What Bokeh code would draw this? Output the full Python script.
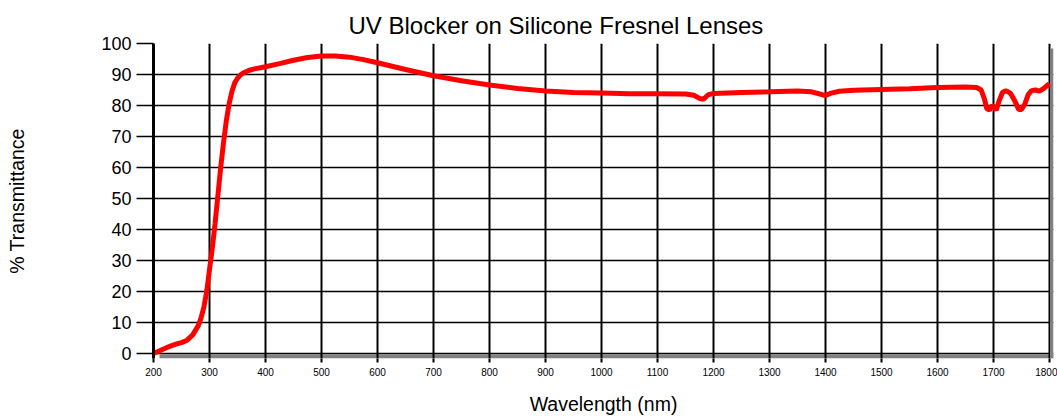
from bokeh.plotting import figure
from bokeh.models import Range1d, FixedTicker, Title
from bokeh.embed import file_html
from bokeh.resources import INLINE

wavelength = [200, 210, 220, 230, 240, 250, 260, 270, 280, 285, 290, 295, 300, 305, 310,
              315, 320, 325, 330, 335, 340, 345, 350, 355, 360, 370, 380, 400, 425, 450,
              475, 500, 525, 550, 575, 600, 650, 700, 750, 800, 850, 900, 950, 1000, 1050,
              1100, 1150, 1165, 1175, 1182, 1190, 1200, 1250, 1300, 1350, 1375, 1390, 1400,
              1410, 1425, 1450, 1500, 1550, 1600, 1650, 1670, 1678, 1684, 1688, 1693, 1697,
              1701, 1705, 1710, 1716, 1722, 1730, 1738, 1745, 1750, 1756, 1762, 1768, 1775,
              1782, 1790, 1796, 1800]
transmittance = [0, 0.8, 1.6, 2.4, 3.0, 3.5, 4.3, 6, 9, 11.5, 15, 20, 27, 34, 42,
                 51, 60, 68, 75, 80.5, 84.5, 87.3, 88.8, 89.8, 90.5, 91.3, 91.8, 92.5, 93.5, 94.6,
                 95.5, 96, 96, 95.6, 94.8, 93.8, 91.6, 89.6, 88, 86.6, 85.5, 84.7, 84.2, 84, 83.8,
                 83.8, 83.7, 83.3, 82.3, 82.0, 83.4, 83.9, 84.2, 84.4, 84.7, 84.4, 83.7, 83.2,
                 84.0, 84.6, 84.9, 85.2, 85.4, 85.8, 86, 85.8, 85.0, 82, 79, 78.5, 80,
                 79.5, 78.5, 81.5, 84.2, 84.8, 84.0, 81.5, 78.7, 78.7, 80.5, 83.5, 84.8, 85.0,
                 84.6, 85.5, 86.5, 87]

x_ticks = list(range(200, 1801, 100))
y_ticks = list(range(0, 101, 10))

FONT = "Liberation Sans"

# plot box (inner) and drop shadow geometry, in pixels
X0, X1, Y0, Y1 = 200, 1800, 0, 100
BOX_W, BOX_H = 896, 310
SHADOW = 4          # shadow thickness, px
SHADOW_SHIFT = 6    # shadow offset along the edge, px
nm_per_px = (X1 - X0) / BOX_W
val_per_px = (Y1 - Y0) / BOX_H
x_end = X1 + SHADOW * nm_per_px
y_start = Y0 - (SHADOW + 1) * val_per_px

p = figure(width=1057, height=417, output_backend="svg", toolbar_location=None,
           x_range=Range1d(X0, x_end), y_range=Range1d(y_start, Y1),
           min_border_left=153, min_border_right=4, min_border_top=43, min_border_bottom=59)
p.title = Title(text="UV Blocker on Silicone Fresnel Lenses", align="left", offset=195,
                text_font=FONT, text_font_size="24px", text_font_style="normal",
                text_color="#000000", standoff=9)

# drop shadow (below the plot box and to its right)
p.quad(left=[X0 + SHADOW_SHIFT * nm_per_px], right=[x_end],
       bottom=[y_start], top=[Y0 - 1 * val_per_px],
       fill_color="#808080", line_color=None, level="image")
p.quad(left=[X1 + 0.5 * nm_per_px], right=[x_end],
       bottom=[y_start], top=[Y1 - (SHADOW + 1) * val_per_px],
       fill_color="#808080", line_color=None, level="glyph")

p.line(wavelength, transmittance, line_color="#ff0000", line_width=5)

p.xaxis.ticker = FixedTicker(ticks=x_ticks)
p.yaxis.ticker = FixedTicker(ticks=y_ticks)
p.xgrid.ticker = FixedTicker(ticks=x_ticks)
p.ygrid.ticker = FixedTicker(ticks=y_ticks)

p.xgrid.grid_line_color = "#000000"
p.xgrid.grid_line_width = 2
p.ygrid.grid_line_color = "#000000"
p.ygrid.grid_line_width = 1.5
p.xgrid.level = "underlay"
p.ygrid.level = "underlay"

p.outline_line_color = None

p.xaxis.axis_label = "Wavelength (nm)"
p.yaxis.axis_label = "% Transmittance"
for ax in (p.xaxis, p.yaxis):
    ax.axis_label_text_font = FONT
    ax.axis_label_text_font_size = "19.5px"
    ax.axis_label_text_font_style = "normal"
    ax.axis_label_text_color = "#000000"
    ax.major_label_text_font = FONT
    ax.major_label_text_color = "#000000"
    ax.major_tick_line_color = "#000000"
    ax.minor_tick_line_color = None
    ax.major_tick_in = 0

p.xaxis.axis_line_color = None
p.xaxis.major_label_text_font_size = "10px"
p.xaxis.major_tick_out = 4
p.xaxis.major_tick_line_width = 2
p.xaxis.major_label_standoff = 5
p.xaxis.axis_label_standoff = 14

p.yaxis.axis_line_color = "#000000"
p.yaxis.axis_line_width = 3
p.yaxis.major_label_text_font_size = "18px"
p.yaxis.major_tick_out = 17
p.yaxis.major_tick_line_width = 1.5
p.yaxis.major_label_standoff = 5
p.yaxis.axis_label_standoff = 70

open("out.html", "w").write(file_html(p, INLINE))
